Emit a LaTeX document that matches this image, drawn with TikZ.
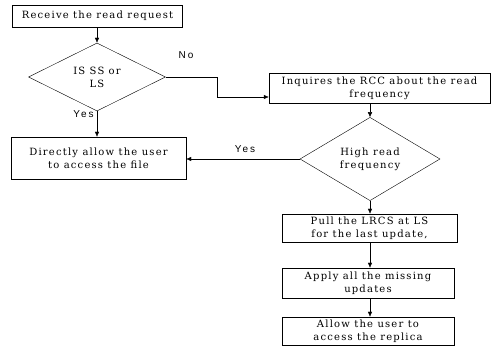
\documentclass[tikz,border=0pt]{standalone}
\usepackage{fontspec}
\setmainfont{DejaVu Serif}[LetterSpace=12]
\newfontfamily\lblfont{Liberation Sans}[LetterSpace=20]
\usetikzlibrary{shapes.geometric,arrows.meta}
\begin{document}
\begin{tikzpicture}[x=1pt,y=-1pt,
  box/.style={draw,thin,rectangle,inner sep=0pt,align=center,font=\fontsize{10}{13}\selectfont},
  dia/.style={draw,thin,diamond,inner sep=0pt,align=center,font=\fontsize{10}{13}\selectfont},
  arr/.style={-{Latex[length=5pt,width=4.5pt]},thin},
  lbl/.style={font=\lblfont\fontsize{10}{11}\selectfont,inner sep=1pt}]
\useasboundingbox (0,0) rectangle (493,352);
\node[box,minimum width=170pt,minimum height=22pt] (b1) at (97.5,16) {Receive the read request};
\node[dia,minimum width=137pt,minimum height=62pt] (d1) at (97,77) {IS SS or\\LS};
\node[box,minimum width=221pt,minimum height=30pt] (b2) at (379.5,88) {Inquires the RCC about the read\\frequency};
\node[dia,minimum width=140pt,minimum height=62pt] (d2) at (370,159) {High read\\frequency};
\node[box,minimum width=175pt,minimum height=42pt] (b3) at (98.5,158) {Directly allow the user\\to access the file};
\node[box,minimum width=175pt,minimum height=28pt] (b4) at (369.5,228) {Pull the LRCS at LS\\for the last update,};
\node[box,minimum width=172pt,minimum height=30pt] (b5) at (368,283) {Apply all the missing\\updates};
\node[box,minimum width=172pt,minimum height=28pt] (b6) at (368,331) {Allow the user to\\access the replica};
\coordinate (k1) at (217,97);
\draw[arr] (b1.south -| d1.north) -- (d1.north);
\draw[arr] (d1.east) -| (k1) -- (k1 -| b2.west);
\draw[arr] (d2.north |- b2.south) -- (d2.north);
\draw[arr] (d1.south) -- (d1.south |- b3.north);
\draw[arr] (d2.west) -- (d2.west -| b3.east);
\draw[arr] (d2.south) -- (d2.south |- b4.north);
\draw[arr] (d2.south |- b4.south) -- (d2.south |- b5.north);
\draw[arr] (d2.south |- b5.south) -- (d2.south |- b6.north);
\node[lbl] (no) at (186,55) {No};
\node[lbl] (y1) at (83.5,114) {Yes};
\node[lbl] (y2) at (245,149) {Yes};
\end{tikzpicture}
\end{document}
